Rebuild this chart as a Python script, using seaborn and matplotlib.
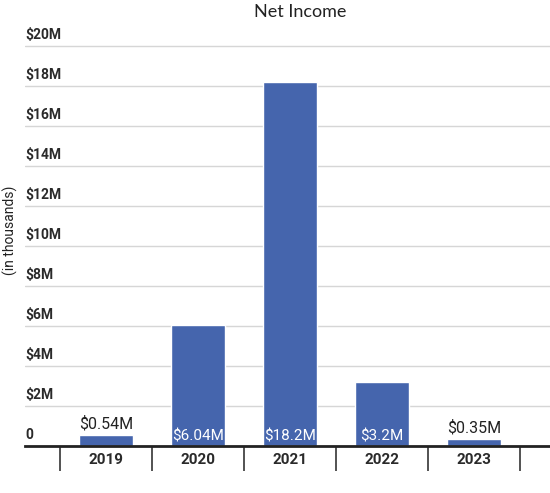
import matplotlib
matplotlib.use("Agg")
import matplotlib.pyplot as plt
import matplotlib.transforms as mtransforms
import seaborn as sns
import pandas as pd

years = ["2019", "2020", "2021", "2022", "2023"]
net_income = [0.54, 6.04, 18.2, 3.2, 0.35]
bar_labels = ["$0.54M", "$6.04M", "$18.2M", "$3.2M", "$0.35M"]
label_inside = [False, True, True, True, False]
y_ticks = [0, 2, 4, 6, 8, 10, 12, 14, 16, 18, 20]
y_tick_labels = ["0", "$2M", "$4M", "$6M", "$8M", "$10M", "$12M", "$14M", "$16M", "$18M", "$20M"]

sns.set_theme(style="white")
plt.rcParams['font.family'] = ['Roboto', 'DejaVu Sans']

W, H = 550, 493
fig = plt.figure(figsize=(W / 100, H / 100), dpi=100)
left_px, right_px, top_px, bottom_px = 25, 550, 35, 446
ax = fig.add_axes([left_px / W, (H - bottom_px) / H, (right_px - left_px) / W, (bottom_px - top_px) / H])

df = pd.DataFrame({"year": years, "value": net_income})
sns.barplot(data=df, x="year", y="value", order=years, color="#4565ad", saturation=1,
            width=0.59, ax=ax, zorder=3)

# x limits so category centers are at pixel 106 + 92*i
x0 = (left_px - 106) / 92
x1 = (right_px - 106) / 92
ax.set_xlim(x0, x1)
ymax = (bottom_px - top_px) / 20
ax.set_ylim(0, ymax)

for s in ["top", "right", "left"]:
    ax.spines[s].set_visible(False)
ax.spines["bottom"].set_color("#222222")
ax.spines["bottom"].set_linewidth(2)
ax.spines["bottom"].set_zorder(4)

# gridlines
ax.set_yticks(y_ticks)
ax.set_yticklabels([])
ax.tick_params(axis="y", length=0, left=False)
ax.yaxis.grid(True, color="#d6d6d6", linewidth=1)
ax.set_axisbelow(True)

trans = mtransforms.blended_transform_factory(ax.transAxes, ax.transData)
off = mtransforms.offset_copy(trans, fig=fig, x=0, y=3, units="points")
for yv, lab in zip(y_ticks, y_tick_labels):
    ax.text(0.0, yv, lab, transform=off, ha="left", va="bottom", fontsize=10,
            fontweight="bold", color="#2a2a2a")

# x ticks: boundaries as tick marks, labels at centers
ax.set_xticks([i - 0.5 for i in range(len(years) + 1)], minor=False)
ax.set_xticklabels([])
ax.tick_params(axis="x", which="major", bottom=True, length=18, width=1.3,
               color="#444444", direction="out")
ax.set_xticks(range(len(years)), minor=True)
ax.set_xticklabels(years, minor=True)
ax.tick_params(axis="x", which="minor", bottom=True, length=0, pad=5, labelsize=11,
               labelcolor="#2a2a2a")
for t in ax.get_xticklabels(minor=True):
    t.set_fontweight("bold")
ax.set_xlabel("")
ax.set_ylabel("")

# bar value labels
for i, (v, lab, inside) in enumerate(zip(net_income, bar_labels, label_inside)):
    if inside:
        ax.text(i, 0.15, lab, ha="center", va="bottom", color="white", fontsize=11, zorder=5)
    else:
        ax.text(i, v + 0.2, lab, ha="center", va="bottom", color="#222222", fontsize=11.5, zorder=5)

fig.text(300 / W, 1 - 12 / H, "Net Income", ha="center", va="center", fontsize=13,
         color="#222222", family=["Lato", "DejaVu Sans"])
fig.text(10 / W, 1 - 230 / H, "(in thousands)", ha="center", va="center", rotation=90,
         fontsize=10, color="#222222")

fig.savefig("out.png", dpi=100)
